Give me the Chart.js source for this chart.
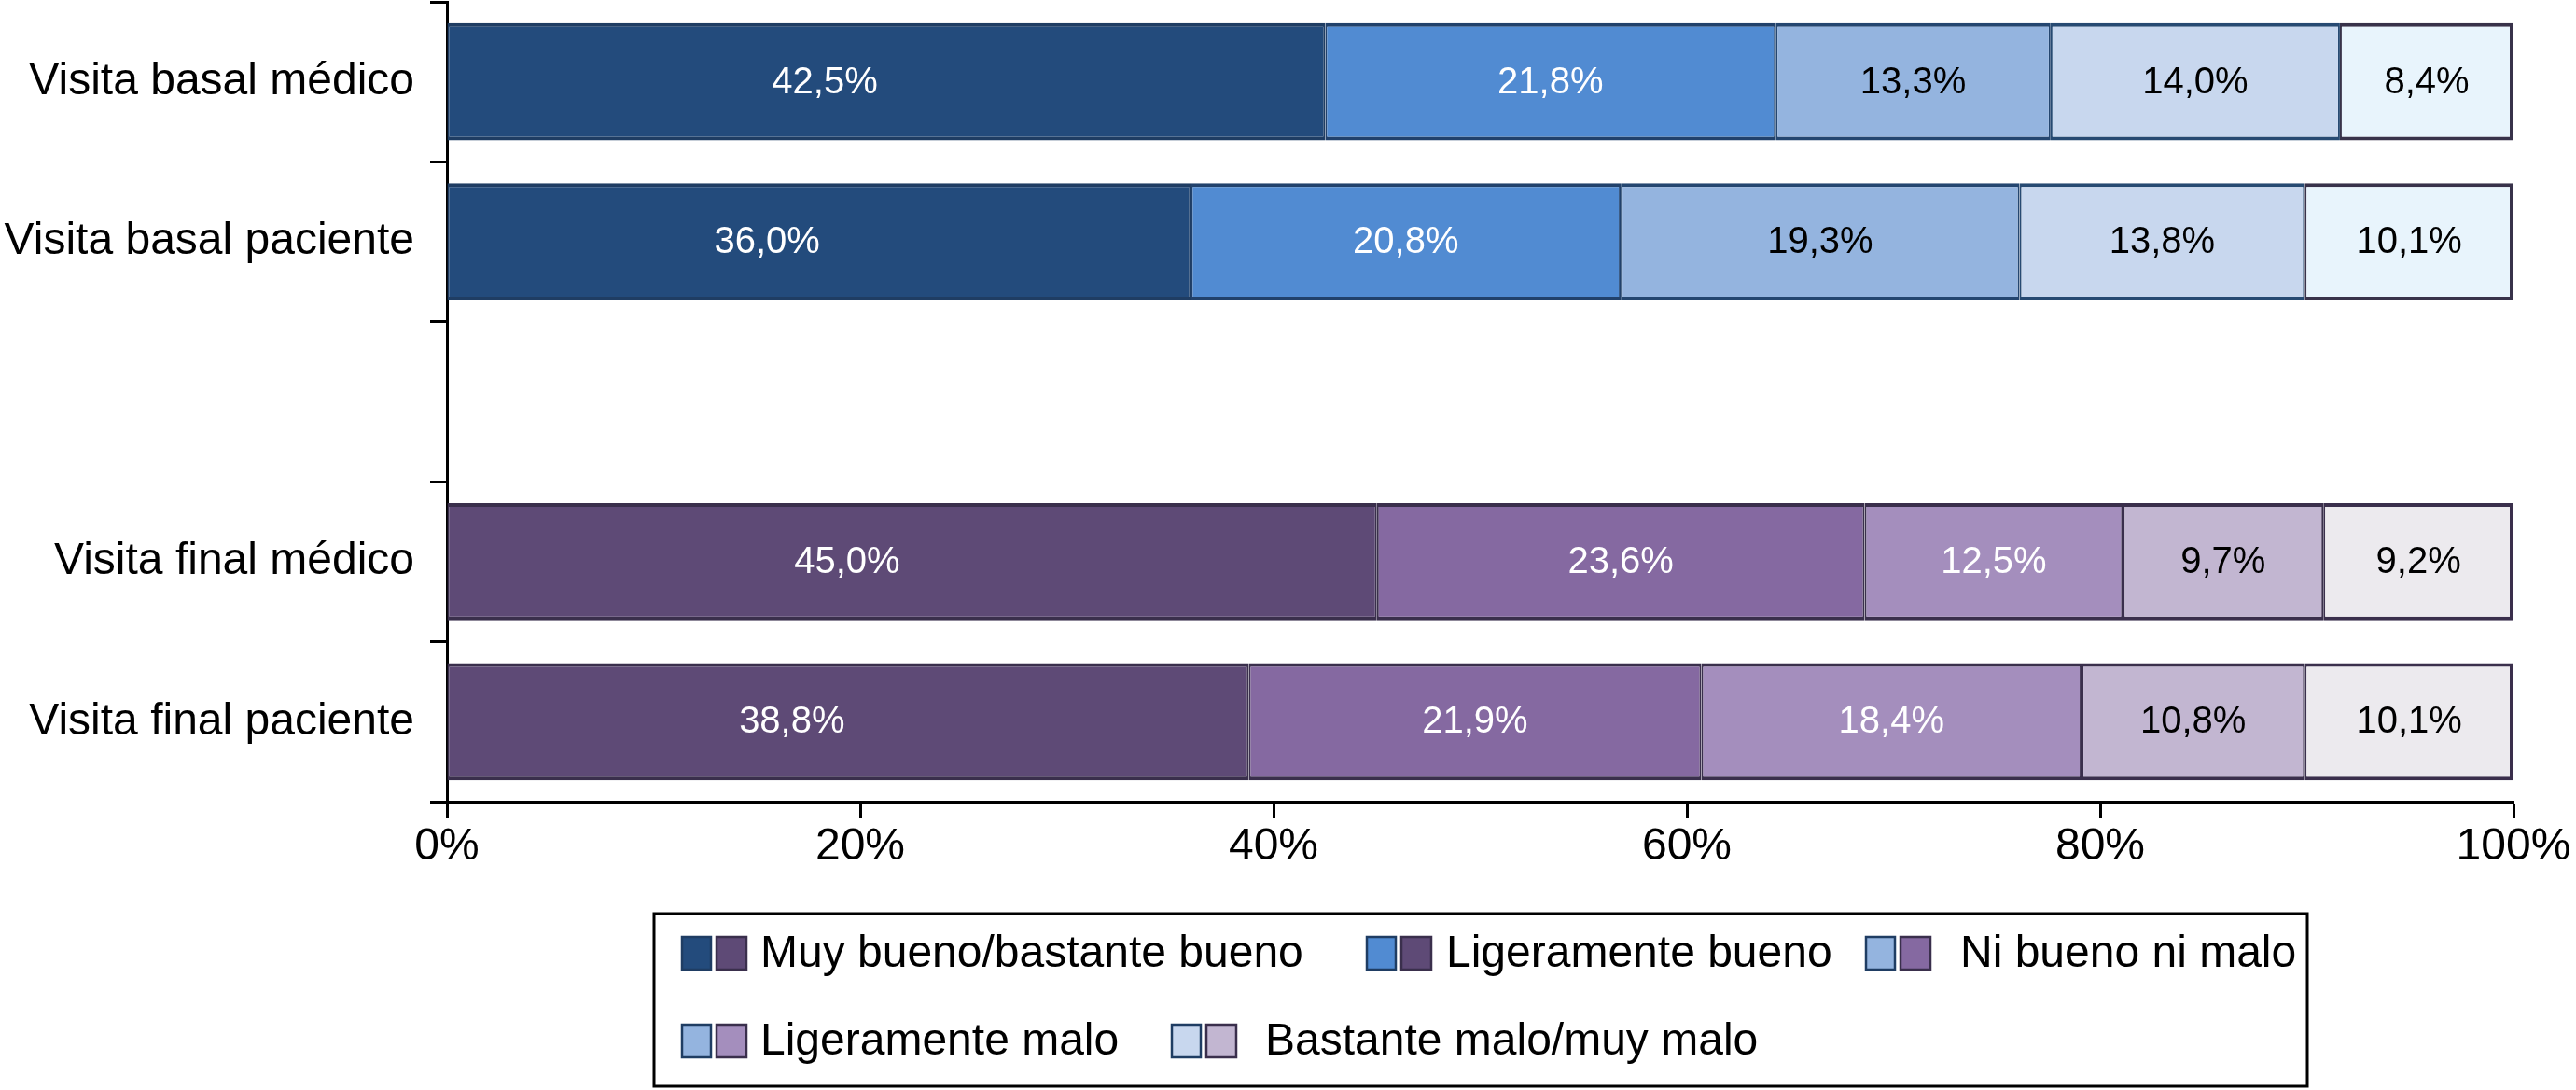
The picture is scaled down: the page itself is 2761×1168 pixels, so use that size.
<!DOCTYPE html>
<html>
<head>
<meta charset="utf-8">
<script src="https://cdn.jsdelivr.net/npm/chart.js@4/dist/chart.umd.min.js"></script>
<style>
  html, body { margin: 0; padding: 0; background: #ffffff; }
  #wrap { width: 2761px; height: 1168px; position: relative; }
  canvas { display: block; }
</style>
</head>
<body>
<div id="wrap"><canvas id="c" width="2761" height="1168"></canvas></div>
<script>
// ---- data ----
const categories = ['Visita basal médico', 'Visita basal paciente', '', 'Visita final médico', 'Visita final paciente'];
const responseLabels = ['Muy bueno/bastante bueno', 'Ligeramente bueno', 'Ni bueno ni malo', 'Ligeramente malo', 'Bastante malo/muy malo'];
const muyBueno      = [42.5, 36.0, null, 45.0, 38.8];
const ligBueno      = [21.8, 20.8, null, 23.6, 21.9];
const niBuenoNiMalo = [13.3, 19.3, null, 12.5, 18.4];
const ligMalo       = [14.0, 13.8, null, 9.7, 10.8];
const bastanteMalo  = [8.4, 10.1, null, 9.2, 10.1];
const xTickValues = [0, 20, 40, 60, 80, 100];

// ---- styles ----
const FONT = '"Liberation Sans", Arial, Helvetica, sans-serif';
const bluePalette   = ['#234b7c', '#518bd2', '#94b4df', '#c8d7ee', '#e8f4fc'];
const purplePalette = ['#5e4a76', '#8569a1', '#a48ebd', '#c2b6d1', '#eceaee'];
const blueBorder = ['#1f3d63', '#21416b', '#244670', '#274a72', '#38324a'];
const purpleBorder = '#3a2f4c';
const blueLabelColor   = ['#ffffff', '#ffffff', '#000000', '#000000', '#000000'];
const purpleLabelColor = ['#ffffff', '#ffffff', '#ffffff', '#000000', '#000000'];
const groupOfRow = ['blue', 'blue', null, 'purple', 'purple'];
// swatch colour index used by the original legend (it is shifted in the source figure)
const legendBlueIdx   = [0, 1, 2, 2, 3];
const legendPurpleIdx = [0, 0, 1, 2, 3];

const seriesValues = [muyBueno, ligBueno, niBuenoNiMalo, ligMalo, bastanteMalo];

const datasets = seriesValues.map((vals, i) => ({
  label: responseLabels[i],
  data: vals,
  backgroundColor: groupOfRow.map(g => g === 'purple' ? purplePalette[i] : bluePalette[i]),
  borderColor: groupOfRow.map(g => g === 'purple' ? purpleBorder : blueBorder[i]),
  borderWidth: { top: 4, bottom: 4, left: 2, right: i === 4 ? 4 : 2 },
  borderSkipped: false,
  barPercentage: 0.815,
  categoryPercentage: 0.9
}));

const labelFrac = [0.43, 0.5, 0.5, 0.5, 0.5];

const valueLabels = {
  id: 'valueLabels',
  afterDatasetsDraw(chart) {
    const ctx = chart.ctx;
    ctx.save();
    ctx.font = '40px ' + FONT;
    ctx.textAlign = 'center';
    ctx.textBaseline = 'middle';
    chart.data.datasets.forEach((ds, di) => {
      const meta = chart.getDatasetMeta(di);
      meta.data.forEach((el, idx) => {
        const v = ds.data[idx];
        if (v === null || v === undefined) return;
        const p = el.getProps(['x', 'y', 'base'], true);
        const x = p.base + (p.x - p.base) * labelFrac[di];
        ctx.fillStyle = groupOfRow[idx] === 'purple' ? purpleLabelColor[di] : blueLabelColor[di];
        ctx.fillText(v.toFixed(1).replace('.', ',') + '%', x, p.y + 1);
      });
    });
    ctx.restore();
  }
};

const legendPos = [
  { x: 731, y: 1021, gap: 84 },
  { x: 1465, y: 1021, gap: 85 },
  { x: 2000, y: 1021, gap: 101 },
  { x: 731, y: 1115, gap: 84 },
  { x: 1256, y: 1115, gap: 100 }
];

const doubleLegend = {
  id: 'doubleLegend',
  afterDraw(chart) {
    const ctx = chart.ctx;
    ctx.save();
    ctx.lineWidth = 3;
    ctx.strokeStyle = '#000000';
    ctx.strokeRect(701, 979, 1772, 185);
    ctx.font = '48px ' + FONT;
    ctx.textAlign = 'left';
    ctx.textBaseline = 'middle';
    responseLabels.forEach((lab, i) => {
      const p = legendPos[i];
      ctx.lineWidth = 2.5;
      ctx.fillStyle = bluePalette[legendBlueIdx[i]];
      ctx.fillRect(p.x, p.y - 17, 31, 35);
      ctx.strokeStyle = blueBorder[0];
      ctx.strokeRect(p.x, p.y - 17, 31, 35);
      ctx.fillStyle = purplePalette[legendPurpleIdx[i]];
      ctx.fillRect(p.x + 37, p.y - 17, 32, 35);
      ctx.strokeStyle = purpleBorder;
      ctx.strokeRect(p.x + 37, p.y - 17, 32, 35);
      ctx.fillStyle = '#000000';
      ctx.fillText(lab, p.x + p.gap, p.y + 2);
    });
    ctx.restore();
  }
};

new Chart(document.getElementById('c'), {
  type: 'bar',
  data: { labels: categories, datasets: datasets },
  options: {
    indexAxis: 'y',
    responsive: false,
    animation: false,
    devicePixelRatio: 1,
    layout: { padding: { top: 2, right: 67, bottom: 229, left: 0 } },
    plugins: {
      legend: { display: false },
      tooltip: { enabled: false }
    },
    scales: {
      x: {
        stacked: true,
        min: 0,
        max: 100,
        afterBuildTicks(scale) { scale.ticks = xTickValues.map(v => ({ value: v })); },
        afterFit(scale) { scale.height = 80; scale.paddingLeft = 0; scale.paddingRight = 0; },
        ticks: {
          color: '#000000',
          font: { family: FONT, size: 48 },
          padding: 2,
          maxRotation: 0,
          callback: v => v + '%'
        },
        grid: {
          drawOnChartArea: false,
          drawTicks: true,
          tickLength: 18,
          tickWidth: 3,
          tickColor: '#000000',
          color: '#000000'
        },
        border: { display: true, color: '#000000', width: 3 }
      },
      y: {
        stacked: true,
        afterFit(scale) { scale.width = 479; scale.paddingTop = 0; scale.paddingBottom = 0; },
        ticks: {
          color: '#000000',
          font: { family: FONT, size: 48 },
          padding: 17
        },
        grid: {
          offset: true,
          drawOnChartArea: false,
          drawTicks: true,
          tickLength: 18,
          tickWidth: 3,
          tickColor: '#000000',
          color: '#000000'
        },
        border: { display: true, color: '#000000', width: 3 }
      }
    }
  },
  plugins: [valueLabels, doubleLegend]
});
</script>
</body>
</html>
